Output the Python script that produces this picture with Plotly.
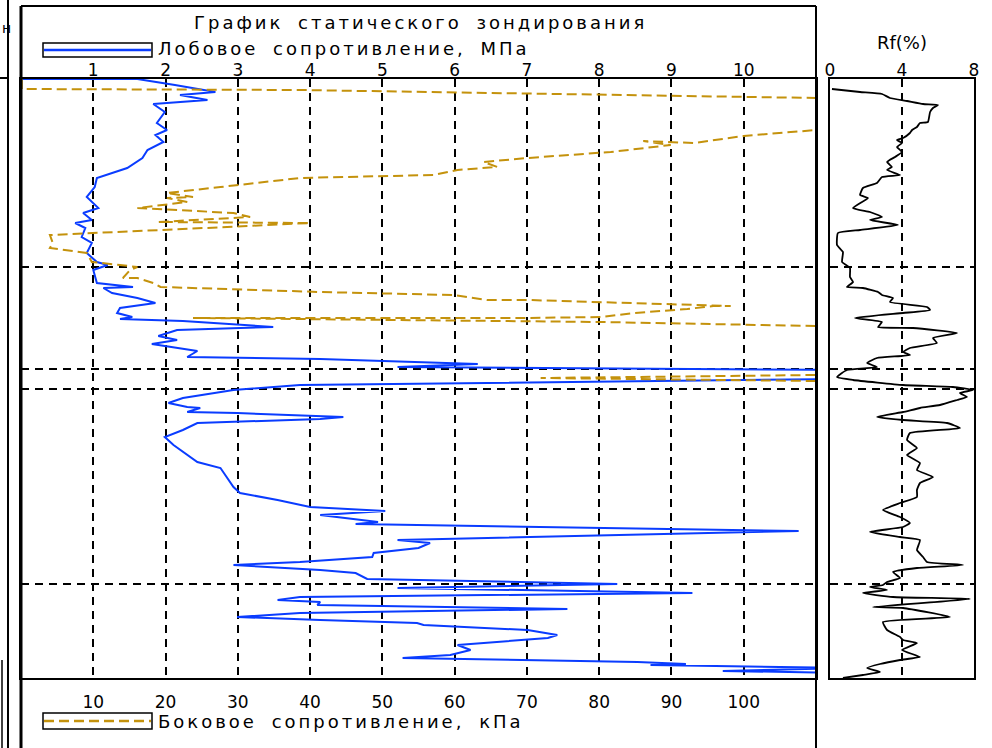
import plotly.graph_objects as go

# ---------------- data ----------------
# Cone (tip) resistance qc, MPa vs depth, m
qc_depth = [0.00, 0.00, 0.12, 0.26, 0.32, 0.42, 0.50, 0.66, 0.88, 1.02, 1.12, 1.26, 1.42, 1.58, 1.78,
            1.98, 2.16, 2.36, 2.58, 2.68, 2.82, 2.88, 2.98, 3.16, 3.28, 3.48, 3.66, 3.72, 3.82, 4.08,
            4.16, 4.18, 4.28, 4.38, 4.48, 4.58, 4.68, 4.76, 4.80, 4.84, 4.96, 5.02, 5.14, 5.22, 5.30,
            5.44, 5.56, 5.60, 5.70, 5.76, 5.82, 5.92, 6.00, 6.12, 6.22, 6.38, 6.48, 6.56, 6.58, 6.66,
            6.68, 6.76, 6.80, 6.88, 7.02, 7.16, 7.32, 7.52, 7.66, 7.78, 7.96, 8.16, 8.28, 8.42, 8.56,
            8.58, 8.64, 8.72, 8.86, 8.90, 9.04, 9.22, 9.28, 9.38, 9.48, 9.56, 9.66, 9.72, 9.82, 9.88,
            10.00, 10.10, 10.18, 10.28, 10.36, 10.42, 10.46, 10.52, 10.60, 10.68, 10.76, 10.82, 10.88,
            10.92, 11.02, 11.12, 11.18, 11.32, 11.42, 11.52, 11.58, 11.66, 11.70, 11.72, 11.78, 11.84,
            11.88]
qc_value = [0.01, 1.61, 2.13, 2.69, 2.20, 2.58, 1.83, 1.99, 1.88, 2.02, 1.86, 1.97, 1.75, 1.68, 1.47,
            1.05, 1.02, 0.91, 1.07, 0.86, 0.98, 0.75, 0.89, 0.84, 0.98, 0.91, 1.05, 1.20, 1.00, 1.05,
            1.55, 1.14, 1.26, 1.61, 1.86, 1.37, 1.33, 1.54, 1.37, 2.24, 3.49, 2.16, 1.90, 2.16, 1.81,
            2.44, 2.30, 4.14, 6.32, 5.21, 11.3, 13.0, 11.3, 3.86, 2.94, 2.24, 2.04, 2.30, 2.48, 2.30,
            2.99, 4.46, 4.14, 2.44, 2.24, 1.99, 2.11, 2.30, 2.44, 2.76, 2.85, 2.94, 3.03, 3.55, 4.00,
            4.28, 5.04, 4.14, 4.94, 4.63, 10.76, 5.21, 5.66, 5.50, 4.88, 4.86, 3.86, 2.94, 4.14, 4.63,
            4.79, 8.25, 5.21, 9.29, 3.86, 3.55, 4.14, 4.10, 7.56, 3.86, 2.99, 4.14, 5.48,
            5.57, 7.01, 7.42, 7.29, 6.04, 6.22, 5.94, 5.28, 8.53, 9.20, 8.71, 11.5, 9.71,
            11.5]

# Sleeve friction fs, kPa vs depth, m
fs_depth = [0.00, 0.20, 0.22, 0.32, 0.38, 1.02, 1.06, 1.14, 1.28, 1.26, 1.24, 1.32, 1.46, 1.58, 1.66,
            1.76, 1.82, 1.92, 1.96, 1.98, 2.16, 2.28, 2.36, 2.38, 2.46, 2.58, 2.68, 2.76, 2.86, 2.88,
            2.96, 3.12, 3.28, 3.38, 3.48, 3.66, 3.72, 3.76, 3.82, 3.98, 3.98, 4.08, 4.16, 4.26, 4.32,
            4.42, 4.42, 4.50, 4.54, 4.54, 4.60, 4.68, 4.76, 4.78, 4.78, 4.86, 4.94, 5.92, 5.98, 6.04,
            11.98]
fs_value = [0.1, 0.1, 38.6, 80.2, 110, 110, 106.9, 100.0, 93.1, 90.3, 86.1, 89.9, 81.6, 70.1, 64.0,
            65.9, 60.4, 57.1, 46.0, 38.6, 27.6, 20.2, 23.8, 20.2, 23.0, 16.1, 29.4, 31.7, 19.0, 40.0,
            28.5, 4.0, 4.4, 4.0, 9.1, 9.8, 13.7, 16.1, 15.1, 14.1, 16.1, 18.3, 19.3, 41.4, 59.8,
            64.5, 70.1, 89.5, 98.2, 95.8, 92.2, 84.8, 80.2, 70.1, 23.8, 80.2, 110, 110, 71.9, 110,
            110]

# Friction ratio Rf, % vs depth, m
rf_depth = [0.20, 0.26, 0.30, 0.38, 0.44, 0.50, 0.52, 0.58, 0.66, 0.86, 0.88, 0.96, 1.02, 1.08, 1.18,
            1.22, 1.28, 1.36, 1.46, 1.56, 1.66, 1.76, 1.82, 1.92, 1.96, 2.08, 2.18, 2.32, 2.38, 2.58,
            2.66, 2.76, 2.82, 2.92, 3.02, 3.08, 3.32, 3.46, 3.66, 3.78, 3.96, 4.06, 4.16, 4.18, 4.26,
            4.32, 4.38, 4.46, 4.56, 4.62, 4.68, 4.78, 4.86, 4.96, 4.98, 5.08, 5.18, 5.28, 5.38, 5.46,
            5.52, 5.58, 5.68, 5.76, 5.82, 5.96, 6.02, 6.12, 6.16, 6.22, 6.28, 6.36, 6.42, 6.52, 6.58,
            6.66, 6.76, 6.82, 6.88, 6.98, 7.08, 7.22, 7.38, 7.52, 7.68, 7.82, 7.96, 8.08, 8.22, 8.36,
            8.48, 8.62, 8.76, 8.88, 8.96, 9.06, 9.16, 9.22, 9.42, 9.56, 9.66, 9.72, 9.78, 9.86, 9.98,
            10.06, 10.12, 10.16, 10.22, 10.28, 10.36, 10.40, 10.56, 10.58, 10.76, 10.86, 11.02, 11.16,
            11.22, 11.28, 11.42, 11.56, 11.62, 11.70, 11.78, 11.86, 11.92, 11.98]
rf_value = [0.11, 1.67, 2.89, 3.33, 4.28, 5.17, 6.00, 5.72, 5.56, 5.44, 5.00, 4.83, 4.56, 4.44, 4.06,
            3.72, 4.00, 3.72, 4.00, 3.61, 3.17, 3.44, 3.17, 3.89, 2.89, 2.61, 1.83, 1.67, 2.11, 1.28,
            2.22, 2.89, 2.22, 3.78, 1.67, 0.44, 0.39, 0.72, 0.67, 1.11, 1.11, 1.28, 0.94, 1.83, 2.67,
            2.89, 3.50, 3.33, 5.39, 5.56, 4.06, 1.39, 2.89, 2.67, 4.61, 7.06, 5.72, 5.94, 4.44, 4.06,
            4.44, 2.61, 2.06, 2.61, 0.94, 0.39, 1.28, 4.06, 6.83, 7.94, 7.22, 7.61, 7.06, 6.11, 5.00,
            4.06, 2.61, 4.06, 6.50, 7.22, 4.44, 4.28, 4.83, 4.28, 5.00, 4.83, 5.72, 5.00, 4.83, 4.83,
            3.89, 2.94, 3.89, 4.44, 4.06, 2.22, 3.89, 5.00, 4.83, 5.17, 5.39, 7.39, 4.83, 3.50, 3.89,
            3.17, 2.94, 2.22, 3.17, 1.83, 3.50, 7.78, 2.39, 4.06, 6.67, 2.94, 3.17, 3.89,
            4.06, 4.83, 4.00, 5.00, 3.89, 2.78, 2.06, 2.78, 1.83, 0.72]

layer_bounds = [3.76, 5.80, 6.20, 10.10]
qc_ticks = [1, 2, 3, 4, 5, 6, 7, 8, 9, 10]
fs_ticks = [10, 20, 30, 40, 50, 60, 70, 80, 90, 100]
rf_ticks = [0, 4, 8]
depth_max = 11.98

title_text = "График статического зондирования"
qc_label = "Лобовое сопротивление, МПа"
fs_label = "Боковое сопротивление, кПа"
rf_label = "Rf(%)"

# ---------------- layout helpers ----------------
W, H = 992, 748
FONT = "DejaVu Sans"
BLUE = "#0a3cff"
GOLD = "#c4920c"
GRID_DASH = "8px,6px"
FS_DASH = "10px,5px"


def fx(x):
    return x / W


def fy(y):
    return 1 - y / H


def spaced(t, ls=3, ws=6):
    return f'<span style="letter-spacing:{ls}px;word-spacing:{ws}px">{t}</span>'


fig = go.Figure()
fig.add_trace(go.Scatter(x=fs_value, y=fs_depth, xaxis="x2", yaxis="y", mode="lines",
                         line=dict(color=GOLD, width=2, dash=FS_DASH), hoverinfo="skip"))
fig.add_trace(go.Scatter(x=qc_value, y=qc_depth, xaxis="x", yaxis="y", mode="lines",
                         line=dict(color=BLUE, width=2), hoverinfo="skip"))
fig.add_trace(go.Scatter(x=rf_value, y=rf_depth, xaxis="x3", yaxis="y3", mode="lines",
                         line=dict(color="black", width=1.8, shape="spline", smoothing=0.4),
                         hoverinfo="skip"))

plot_dom_y = [fy(678), fy(79)]
tickfont = dict(family=FONT, size=17, color="black")

fig.update_layout(
    width=W, height=H, margin=dict(l=0, r=0, t=0, b=0, pad=0, autoexpand=False),
    paper_bgcolor="white", plot_bgcolor="white", showlegend=False,
    xaxis=dict(domain=[fx(21), fx(816)], range=[0, 11], side="top", anchor="y",
               tickvals=qc_ticks, ticktext=[str(v) for v in qc_ticks], ticks="",
               ticklabelstandoff=-6,
               showgrid=True, gridcolor="black", gridwidth=2, griddash=GRID_DASH,
               showline=True, mirror=True, linecolor="black", linewidth=2,
               zeroline=False, tickfont=tickfont, automargin=False),
    xaxis2=dict(overlaying="x", range=[0, 110], side="bottom", anchor="y",
                tickvals=fs_ticks, ticktext=[str(v) for v in fs_ticks], ticks="",
                ticklabelstandoff=12,
                showgrid=False, zeroline=False, showline=False, tickfont=tickfont,
                automargin=False),
    yaxis=dict(domain=plot_dom_y, range=[depth_max, 0], anchor="x",
               tickvals=layer_bounds, showticklabels=False, ticks="",
               showgrid=True, gridcolor="black", gridwidth=2, griddash=GRID_DASH,
               showline=True, mirror=True, linecolor="black", linewidth=2, zeroline=False,
               automargin=False),
    xaxis3=dict(domain=[fx(830), fx(974)], range=[0, 8], side="top", anchor="y3",
                tickvals=rf_ticks, ticktext=[str(v) for v in rf_ticks], ticks="",
                ticklabelstandoff=-6,
                showgrid=True, gridcolor="black", gridwidth=2, griddash=GRID_DASH,
                showline=True, mirror=True, linecolor="black", linewidth=2,
                zeroline=False, tickfont=tickfont, automargin=False),
    yaxis3=dict(domain=plot_dom_y, range=[depth_max, 0], anchor="x3",
                tickvals=layer_bounds, showticklabels=False, ticks="",
                showgrid=True, gridcolor="black", gridwidth=2, griddash=GRID_DASH,
                showline=True, mirror=True, linecolor="black", linewidth=2, zeroline=False,
                automargin=False),
)

shapes = []


def pline(x0, y0, x1, y1, w=2, color="black", dash="solid"):
    shapes.append(dict(type="line", xref="paper", yref="paper", x0=fx(x0), y0=fy(y0),
                       x1=fx(x1), y1=fy(y1), line=dict(color=color, width=w, dash=dash)))


# outer frame of the main column
pline(21, 6, 816, 6)
pline(21, 6, 21, 748, w=3)
pline(816, 6, 816, 748)
# fragments of the neighbouring column on the left
pline(8, 0, 8, 748)
pline(2, 660, 2, 748, w=1.5)
pline(0, 78, 8, 78)
# legend sample boxes
for (y0, y1) in [(43, 57), (713, 729)]:
    shapes.append(dict(type="rect", xref="paper", yref="paper", x0=fx(43), x1=fx(152),
                       y0=fy(y1), y1=fy(y0), line=dict(color="black", width=1.5)))
pline(44, 50, 151, 50, w=2.5, color=BLUE)
pline(44, 721, 151, 721, w=2.5, color=GOLD, dash=FS_DASH)

annotations = [
    dict(text=spaced(title_text), x=fx(192), y=fy(22), xanchor="left", yanchor="middle", size=18),
    dict(text=spaced(qc_label), x=fx(156), y=fy(48.5), xanchor="left", yanchor="middle", size=18),
    dict(text=spaced(fs_label), x=fx(156), y=fy(721), xanchor="left", yanchor="middle", size=18),
    dict(text=rf_label, x=fx(902), y=fy(42.5), xanchor="center", yanchor="middle", size=18),
    dict(text="н", x=fx(0), y=fy(28), xanchor="left", yanchor="middle", size=14),
]
for a in annotations:
    fsize = a.pop("size")
    a.update(xref="paper", yref="paper", showarrow=False,
             font=dict(family=FONT, size=fsize, color="black"))

fig.update_layout(shapes=shapes, annotations=annotations)
fig.write_html("out.html", config={"displayModeBar": False},
               post_script="document.body.style.margin='0px';")
